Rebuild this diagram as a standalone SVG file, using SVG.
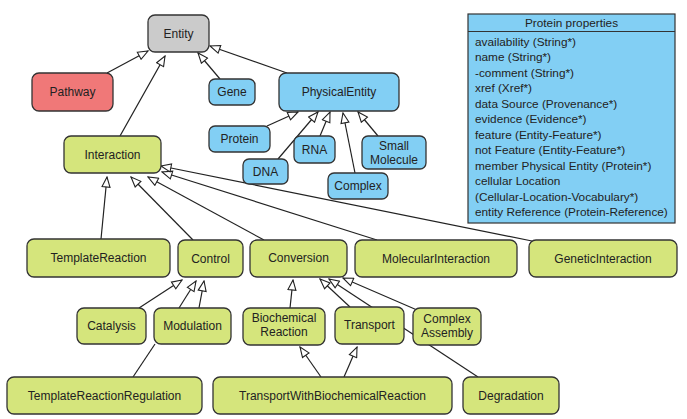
<svg xmlns="http://www.w3.org/2000/svg" width="687" height="419" viewBox="0 0 687 419">
<style>
.n rect{stroke:#333;stroke-width:1.3}
.g rect{fill:#d5e57c}
.b rect{fill:#82cff4}
.r rect{fill:#f07878}
.y rect{fill:#cbcbcb}
text{font-family:"Liberation Sans",Arial,sans-serif;font-size:12px;fill:#222;text-anchor:middle}
.p text{font-size:11.8px;text-anchor:start}
.p text.t{text-anchor:middle}
#edges line{stroke:#222;stroke-width:1.2;marker-end:url(#tri)}
#edges line.plain{marker-end:none}
</style>
<defs>
<marker id="tri" viewBox="0 0 12 10" refX="11" refY="5" markerWidth="12" markerHeight="10" markerUnits="userSpaceOnUse" orient="auto">
<path d="M1,1 L11,5 L1,9 z" fill="#fff" stroke="#222" stroke-width="1.1"/>
</marker>
</defs>
<rect width="687" height="419" fill="#fff"/>
<g id="edges">
<line x1="107" y1="73" x2="148" y2="51"/>
<line x1="120" y1="136" x2="165" y2="56"/>
<line x1="220" y1="79" x2="198" y2="53"/>
<line x1="287" y1="73" x2="210" y2="46"/>
<line x1="267" y1="126" x2="298" y2="112"/>
<line x1="278" y1="159" x2="318" y2="112"/>
<line x1="320" y1="136" x2="330" y2="112"/>
<line x1="355" y1="173" x2="343" y2="113"/>
<line x1="378" y1="136" x2="358" y2="112"/>
<line x1="101" y1="239" x2="107" y2="177"/>
<line x1="193" y1="240" x2="131" y2="177"/>
<line x1="264" y1="240" x2="148" y2="177"/>
<line x1="377" y1="240" x2="162" y2="172"/>
<line x1="532" y1="241" x2="161" y2="166"/>
<line x1="139" y1="308" x2="182" y2="280"/>
<line x1="179" y1="308" x2="196" y2="281"/>
<line x1="199" y1="308" x2="204" y2="281"/>
<line class="plain" x1="133" y1="377" x2="155" y2="344"/>
<line x1="290" y1="308" x2="293" y2="280"/>
<line x1="350" y1="307" x2="320" y2="279"/>
<line x1="478" y1="377" x2="329" y2="279"/>
<line x1="417" y1="310" x2="343" y2="278"/>
<line x1="321" y1="377" x2="300" y2="347"/>
<line x1="344" y1="377" x2="357" y2="347"/>
</g>
<g id="Entity" class="n y"><rect x="148" y="15" width="61" height="37" rx="7"/><text x="178.5" y="38">Entity</text></g>
<g id="Pathway" class="n r"><rect x="32" y="73" width="81" height="38" rx="7"/><text x="72.5" y="96">Pathway</text></g>
<g id="Gene" class="n b"><rect x="209" y="79" width="46" height="26" rx="6"/><text x="232" y="96">Gene</text></g>
<g id="PhysicalEntity" class="n b"><rect x="279" y="73" width="120" height="38" rx="7"/><text x="339" y="96">PhysicalEntity</text></g>
<g id="Protein" class="n b"><rect x="209" y="126" width="61" height="26" rx="6"/><text x="239.5" y="143">Protein</text></g>
<g id="RNA" class="n b"><rect x="294" y="136" width="41" height="27" rx="6"/><text x="314.5" y="153.5">RNA</text></g>
<g id="DNA" class="n b"><rect x="243" y="159" width="45" height="25" rx="6"/><text x="265.5" y="175.5">DNA</text></g>
<g id="SmallMolecule" class="n b"><rect x="362" y="136" width="64" height="33" rx="6"/><text x="394" y="150">Small</text><text x="394" y="164">Molecule</text></g>
<g id="Complex" class="n b"><rect x="328" y="173" width="60" height="26" rx="6"/><text x="358" y="190">Complex</text></g>
<g id="Interaction" class="n g"><rect x="64" y="136" width="97" height="37" rx="7"/><text x="112.5" y="159">Interaction</text></g>
<g id="TemplateReaction" class="n g"><rect x="27" y="239" width="143" height="38" rx="7"/><text x="98.5" y="262">TemplateReaction</text></g>
<g id="Control" class="n g"><rect x="178" y="240" width="65" height="37" rx="7"/><text x="210.5" y="263">Control</text></g>
<g id="Conversion" class="n g"><rect x="250" y="240" width="97" height="37" rx="7"/><text x="298.5" y="262">Conversion</text></g>
<g id="MolecularInteraction" class="n g"><rect x="355" y="240" width="162" height="37" rx="7"/><text x="436" y="263">MolecularInteraction</text></g>
<g id="GeneticInteraction" class="n g"><rect x="529" y="240" width="148" height="37" rx="7"/><text x="603" y="263">GeneticInteraction</text></g>
<g id="Catalysis" class="n g"><rect x="77" y="308" width="69" height="36" rx="7"/><text x="111.5" y="330">Catalysis</text></g>
<g id="Modulation" class="n g"><rect x="154" y="308" width="77" height="36" rx="7"/><text x="192.5" y="330">Modulation</text></g>
<g id="BiochemicalReaction" class="n g"><rect x="243" y="308" width="82" height="37" rx="7"/><text x="284" y="321.5">Biochemical</text><text x="284" y="336">Reaction</text></g>
<g id="Transport" class="n g"><rect x="335" y="307" width="69" height="37" rx="7"/><text x="369.5" y="329">Transport</text></g>
<g id="ComplexAssembly" class="n g"><rect x="413" y="308" width="68" height="37" rx="7"/><text x="447" y="322.5">Complex</text><text x="447" y="337">Assembly</text></g>
<g id="TemplateReactionRegulation" class="n g"><rect x="7" y="377" width="195" height="37" rx="7"/><text x="104.5" y="400">TemplateReactionRegulation</text></g>
<g id="TransportWithBiochemicalReaction" class="n g"><rect x="213" y="377" width="239" height="37" rx="7"/><text x="332.5" y="400">TransportWithBiochemicalReaction</text></g>
<g id="Degradation" class="n g"><rect x="463" y="377" width="96" height="37" rx="7"/><text x="511" y="400">Degradation</text></g>
<g id="ProteinProperties" class="p">
<rect x="468" y="14" width="207" height="209" fill="#82cff4" stroke="#333" stroke-width="1.2"/>
<line x1="468" y1="31.5" x2="675" y2="31.5" stroke="#333" stroke-width="1.2"/>
<text class="t" x="571.5" y="27">Protein properties</text>
<text x="475" y="45.5">availability (String*)</text>
<text x="475" y="61">name (String*)</text>
<text x="475" y="76.5">-comment (String*)</text>
<text x="475" y="92">xref (Xref*)</text>
<text x="475" y="107.5">data Source (Provenance*)</text>
<text x="475" y="123">evidence (Evidence*)</text>
<text x="475" y="138.5">feature (Entity-Feature*)</text>
<text x="475" y="154">not Feature (Entity-Feature*)</text>
<text x="475" y="169.5">member Physical Entity (Protein*)</text>
<text x="475" y="185">cellular Location</text>
<text x="475" y="200.5">(Cellular-Location-Vocabulary*)</text>
<text x="475" y="216">entity Reference (Protein-Reference)</text>
</g>
</svg>
